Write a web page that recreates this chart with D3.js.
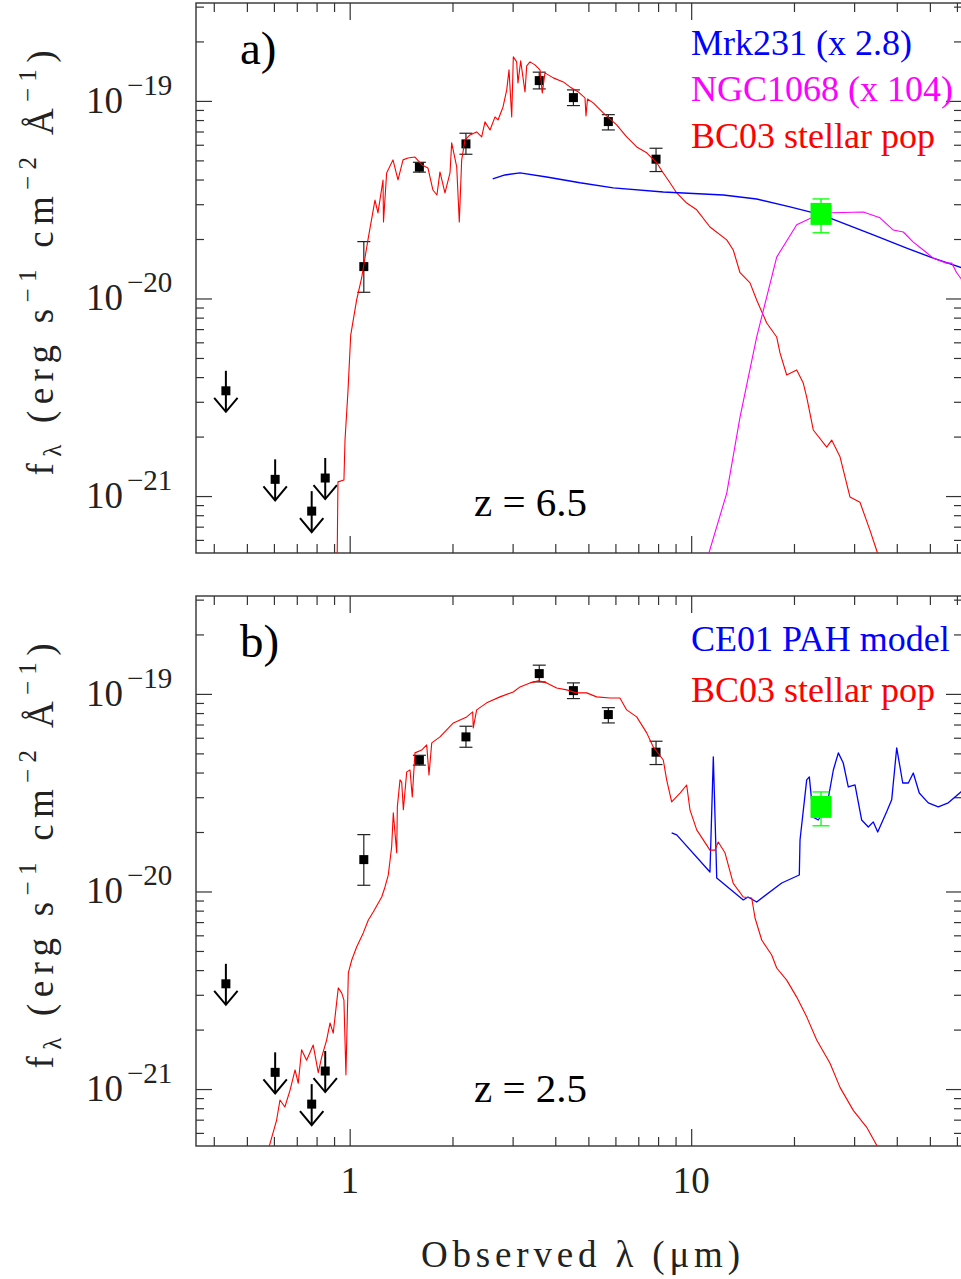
<!DOCTYPE html>
<meta charset="utf-8">
<script src="https://d3js.org/d3.v7.min.js"></script>
<style>
  body { margin: 0; background: #fff; overflow: hidden; }
  text { font-family: "Liberation Serif", "Times New Roman", serif; }
</style>
<div id="sed"></div>
<script>
// fluxes are in units of 1e-20 erg s^-1 cm^-2 A^-1, wavelengths in micron
const FLUX_UNIT = 1e-20;

// detections (ACS/NICMOS/K/IRAC)
const phot_lambda = [1.10, 1.60, 2.19, 3.59, 4.52, 5.72, 7.89];
const phot_flux   = [1.45, 4.62, 6.06, 12.67, 10.39, 7.86, 5.07];
const phot_hi     = [1.94, 4.89, 6.86, 13.98, 11.37, 8.52, 5.76];
const phot_lo     = [1.075, 4.36, 5.37, 11.50, 9.47, 7.13, 4.39];

// upper limits (B, V, i, z)
const ulim_lambda = [0.434, 0.605, 0.774, 0.848];
const ulim_flux   = [0.341, 0.1215, 0.0839, 0.1234];

// MIPS 24 micron
const mips_lambda = [24.0];
const mips_flux   = [2.68];
const mips_hi     = [3.19];
const mips_lo     = [2.15];

// panel a) models, z = 6.5
const bc03_z65 = [[0.918,0.04],[0.924,0.118],[0.962,0.1205],[0.969,0.192],[0.989,0.344],[1.007,0.653],[1.048,0.983],[1.084,1.27],[1.131,1.98],[1.186,3.15],[1.210,2.71],[1.252,3.98],[1.256,2.44],[1.283,4.32],[1.339,5.03],[1.385,3.98],[1.433,5.03],[1.481,5.14],[1.553,5.20],[1.628,4.74],[1.695,4.58],[1.753,3.54],[1.801,3.34],[1.838,4.37],[1.901,3.42],[1.967,4.32],[1.989,6.13],[2.058,4.63],[2.094,2.44],[2.128,5.03],[2.176,6.35],[2.250,6.73],[2.354,6.97],[2.435,6.57],[2.490,7.83],[2.576,7.13],[2.664,8.30],[2.719,8.01],[2.812,9.32],[2.883,11.37],[2.928,14.35],[2.982,8.30],[3.014,16.70],[3.083,15.76],[3.110,12.33],[3.168,15.94],[3.261,11.10],[3.299,15.04],[3.373,15.76],[3.488,15.22],[3.608,14.35],[3.664,10.98],[3.731,13.86],[3.946,13.08],[4.222,12.48],[4.417,11.77],[4.671,11.10],[4.887,10.36],[4.920,8.40],[4.970,10.23],[5.168,9.77],[5.528,8.69],[6.050,7.56],[6.473,6.57],[6.925,5.85],[7.409,5.46],[7.925,4.86],[8.285,4.32],[8.667,3.85],[9.069,3.42],[9.700,3.04],[10.38,2.81],[11.35,2.30],[12.71,1.98],[13.28,1.76],[13.90,1.35],[14.87,1.20],[15.55,0.983],[16.64,0.751],[17.80,0.638],[18.20,0.530],[19.04,0.410],[20.37,0.435],[21.29,0.373],[21.79,0.317],[22.78,0.216],[24.94,0.177],[25.79,0.192],[27.28,0.158],[29.17,0.099],[31.21,0.093],[33.39,0.067],[34.93,0.053],[35.72,0.047]];
const mrk231 = [[2.623,4.03],[2.849,4.22],[3.153,4.32],[3.775,4.12],[4.725,3.85],[5.913,3.63],[8.285,3.46],[12.42,3.34],[15.55,3.19],[19.47,2.91],[24.11,2.65],[34.14,2.10],[42.76,1.80],[51.16,1.60],[62.1,1.43]];
const ngc1068 = [[11.05,0.0448],[11.22,0.0502],[12.71,0.1035],[13.90,0.251],[15.55,0.638],[17.80,1.62],[20.37,2.36],[24.11,2.71],[31.92,2.74],[35.72,2.56],[39.07,2.22],[41.80,2.17],[44.71,1.93],[47.83,1.76],[51.16,1.60],[56.01,1.51],[57.93,1.51],[59.92,1.35],[62.1,1.24]];

// panel b) models, z = 2.5
const bc03_z25 = [[0.577,0.049],[0.611,0.0697],[0.625,0.088],[0.646,0.0811],[0.669,0.0988],[0.692,0.125],[0.707,0.107],[0.723,0.158],[0.748,0.140],[0.782,0.167],[0.809,0.121],[0.828,0.145],[0.856,0.177],[0.876,0.216],[0.895,0.192],[0.926,0.325],[0.948,0.306],[0.962,0.282],[0.975,0.118],[0.991,0.387],[1.014,0.45],[1.048,0.524],[1.096,0.617],[1.134,0.717],[1.172,0.787],[1.241,0.938],[1.269,1.054],[1.297,1.21],[1.327,1.68],[1.342,2.50],[1.373,1.57],[1.379,2.68],[1.404,3.67],[1.420,3.58],[1.436,2.59],[1.469,4.03],[1.502,4.12],[1.525,3.01],[1.553,5.03],[1.625,5.20],[1.681,5.52],[1.707,3.89],[1.739,5.65],[1.838,6.06],[2.012,7.13],[2.201,7.65],[2.292,8.11],[2.301,6.73],[2.354,8.30],[2.519,9.01],[2.755,9.66],[3.014,10.23],[3.153,10.85],[3.373,11.37],[3.568,11.64],[3.775,11.37],[4.038,10.72],[4.319,10.48],[4.620,10.12],[4.943,10.12],[5.287,9.66],[5.783,9.54],[6.186,9.54],[6.473,8.30],[6.925,7.65],[7.409,6.35],[7.745,5.39],[8.285,4.63],[8.476,3.67],[8.767,2.84],[9.276,3.15],[9.700,3.46],[9.92,2.59],[10.38,2.05],[11.35,1.62],[11.74,1.62],[12.00,1.78],[12.56,1.57],[13.28,1.10],[14.21,0.938],[15.04,0.927],[15.38,0.734],[16.09,0.568],[17.21,0.477],[17.80,0.410],[19.04,0.356],[20.37,0.292],[21.79,0.232],[23.31,0.177],[25.50,0.135],[27.28,0.102],[29.83,0.078],[32.66,0.064],[34.93,0.052],[35.72,0.048]];
const ce01 = [[8.767,1.978],[9.069,1.933],[11.35,1.255],[11.61,4.80],[11.88,1.17],[14.21,0.906],[14.67,0.938],[15.55,0.885],[18.41,1.104],[20.73,1.212],[20.83,1.822],[21.79,3.67],[22.18,3.80],[22.78,2.38],[23.56,2.30],[24.94,2.68],[26.08,4.12],[26.97,5.03],[27.88,4.47],[28.84,3.38],[30.18,3.46],[31.57,2.30],[33.01,2.12],[34.14,2.25],[35.17,2.00],[37.36,2.53],[38.65,2.91],[39.98,5.33],[41.64,3.54],[43.24,3.54],[44.71,3.98],[46.55,3.15],[49.46,2.81],[52.91,2.68],[56.61,2.81],[62.1,3.23]];

// axis ticks
const x_major = [1, 10];
const x_minor = [0.4,0.5,0.6,0.7,0.8,0.9,2,3,4,5,6,7,8,9,20,30,40,50,60];
const y_major = [1e-21, 1e-20, 1e-19];
const y_exp   = ["\u221221", "\u221220", "\u221219"];
const y_minor = [6e-22,7e-22,8e-22,9e-22,2e-21,3e-21,4e-21,5e-21,6e-21,7e-21,8e-21,9e-21,2e-20,3e-20,4e-20,5e-20,6e-20,7e-20,8e-20,9e-20,2e-19,3e-19];

const width = 961, height = 1279;
const left = 196, right = 962;

const svg = d3.select("#sed").append("svg")
    .attr("width", width)
    .attr("height", height);

const x = d3.scaleLog().domain([0.3548, 62.09]).range([left, right]);

const panels = [
  { id: "a", top: 3, bottom: 553, label: "a)", labelY: 64, z: "z = 6.5", zY: 516,
    models: [ {data: bc03_z65, color: "#ff0000", w: 1.1},
              {data: mrk231, color: "#0000ff", w: 1.4},
              {data: ngc1068, color: "#ff00ff", w: 1.1} ],
    legend: [ {text: "Mrk231 (x 2.8)", color: "#0000ff", y: 55},
              {text: "NGC1068 (x 104)", color: "#ff00ff", y: 101},
              {text: "BC03 stellar pop", color: "#ff0000", y: 148} ] },
  { id: "b", top: 596, bottom: 1146, label: "b)", labelY: 657, z: "z = 2.5", zY: 1102,
    models: [ {data: ce01, color: "#0000ff", w: 1.3},
              {data: bc03_z25, color: "#ff0000", w: 1.1} ],
    legend: [ {text: "CE01 PAH model", color: "#0000ff", y: 651},
              {text: "BC03 stellar pop", color: "#ff0000", y: 702} ] }
];

const tickColor = "#333";

panels.forEach(function(p, pi) {
  const y = d3.scaleLog().domain([5.15e-22, 3.13e-19]).range([p.bottom, p.top]);
  const g = svg.append("g");

  g.append("clipPath").attr("id", "clip" + p.id)
    .append("rect")
      .attr("x", left).attr("y", p.top)
      .attr("width", right - left).attr("height", p.bottom - p.top);

  // ticks on all four sides, pointing inward
  function styleAxis(sel) {
    sel.select(".domain").remove();
    sel.selectAll(".tick line").attr("stroke", tickColor).attr("stroke-width", 1.2);
    sel.selectAll(".tick text").remove();
  }
  const axes = [
    [d3.axisBottom(x), "translate(0," + p.bottom + ")", x_major, x_minor, 17, 9],
    [d3.axisTop(x), "translate(0," + p.top + ")", x_major, x_minor, 17, 9],
    [d3.axisLeft(y), "translate(" + left + ",0)", y_major, y_minor, 16, 8],
    [d3.axisRight(y), "translate(" + right + ",0)", y_major, y_minor, 16, 8]
  ];
  axes.forEach(function(a) {
    g.append("g").attr("transform", a[1])
      .call(a[0].tickValues(a[2]).tickSize(-a[4]).tickSizeOuter(0))
      .call(styleAxis);
    g.append("g").attr("transform", a[1])
      .call(a[0].tickValues(a[3]).tickSize(-a[5]).tickSizeOuter(0))
      .call(styleAxis);
  });

  g.append("rect")
    .attr("x", left).attr("y", p.top)
    .attr("width", right - left).attr("height", p.bottom - p.top)
    .attr("fill", "none").attr("stroke", tickColor).attr("stroke-width", 1.4);

  // y tick labels 10^n
  y_major.forEach(function(v, i) {
    g.append("text").attr("x", 86).attr("y", y(v) + 12)
      .attr("font-size", 37).attr("fill", "#222").text("10");
    g.append("text").attr("x", 127).attr("y", y(v) - 6)
      .attr("font-size", 29).attr("fill", "#222")
      .text(y_exp[i]);
  });

  // y axis title
  const yt = g.append("text")
    .attr("transform", "translate(53," + ((p.top + p.bottom) / 2 - 15) + ") rotate(-90)")
    .attr("text-anchor", "middle")
    .attr("font-size", 37).attr("fill", "#222")
    .attr("textLength", 425).attr("lengthAdjust", "spacing");
  yt.append("tspan").text("f");
  yt.append("tspan").attr("font-size", 25).attr("dy", 8).text("\u03bb");
  yt.append("tspan").attr("dy", -8).text(" (erg s");
  yt.append("tspan").attr("font-size", 25).attr("dy", -17).text("\u22121");
  yt.append("tspan").attr("dy", 17).text(" cm");
  yt.append("tspan").attr("font-size", 25).attr("dy", -17).text("\u22122");
  yt.append("tspan").attr("dy", 17).text(" \u00c5");
  yt.append("tspan").attr("font-size", 25).attr("dy", -17).text("\u22121");
  yt.append("tspan").attr("dy", 17).text(")");

  const plot = g.append("g").attr("clip-path", "url(#clip" + p.id + ")");

  // detections with error bars
  phot_lambda.forEach(function(l, i) {
    const cx = x(l);
    plot.append("line")
      .attr("x1", cx).attr("x2", cx)
      .attr("y1", y(phot_hi[i] * FLUX_UNIT)).attr("y2", y(phot_lo[i] * FLUX_UNIT))
      .attr("stroke", "#222").attr("stroke-width", 1.2);
    [phot_hi[i], phot_lo[i]].forEach(function(e) {
      plot.append("line")
        .attr("x1", cx - 6.5).attr("x2", cx + 6.5)
        .attr("y1", y(e * FLUX_UNIT)).attr("y2", y(e * FLUX_UNIT))
        .attr("stroke", "#222").attr("stroke-width", 1.2);
    });
    plot.append("rect")
      .attr("x", cx - 4.5).attr("y", y(phot_flux[i] * FLUX_UNIT) - 4.5)
      .attr("width", 9).attr("height", 9).attr("fill", "#000");
  });

  // upper limits
  ulim_lambda.forEach(function(l, i) {
    const cx = x(l), cy = y(ulim_flux[i] * FLUX_UNIT);
    plot.append("line")
      .attr("x1", cx).attr("x2", cx).attr("y1", cy - 20).attr("y2", cy + 21)
      .attr("stroke", "#000").attr("stroke-width", 2);
    plot.append("polyline")
      .attr("points", [[cx - 11.7, cy + 7], [cx, cy + 21], [cx + 11.7, cy + 7]].join(" "))
      .attr("fill", "none").attr("stroke", "#000").attr("stroke-width", 2);
    plot.append("rect")
      .attr("x", cx - 4.5).attr("y", cy - 4.5)
      .attr("width", 9).attr("height", 9).attr("fill", "#000");
  });

  // model curves
  const line = d3.line()
    .x(function(d) { return x(d[0]); })
    .y(function(d) { return y(d[1] * FLUX_UNIT); });
  p.models.forEach(function(m) {
    plot.append("path")
      .attr("d", line(m.data))
      .attr("fill", "none")
      .attr("stroke", m.color)
      .attr("stroke-width", m.w)
      .attr("stroke-linejoin", "round");
  });

  // 24 micron point
  mips_lambda.forEach(function(l, i) {
    const cx = x(l);
    plot.append("line")
      .attr("x1", cx).attr("x2", cx)
      .attr("y1", y(mips_hi[i] * FLUX_UNIT)).attr("y2", y(mips_lo[i] * FLUX_UNIT))
      .attr("stroke", "#00ff00").attr("stroke-width", 1.3);
    [mips_hi[i], mips_lo[i]].forEach(function(e) {
      plot.append("line")
        .attr("x1", cx - 8.5).attr("x2", cx + 8.5)
        .attr("y1", y(e * FLUX_UNIT)).attr("y2", y(e * FLUX_UNIT))
        .attr("stroke", "#00ff00").attr("stroke-width", 1.3);
    });
    plot.append("rect")
      .attr("x", cx - 10.5).attr("y", y(mips_flux[i] * FLUX_UNIT) - 11)
      .attr("width", 21).attr("height", 22).attr("fill", "#00ff00");
  });

  // labels
  g.append("text").attr("x", 240).attr("y", p.labelY)
    .attr("font-size", 47).attr("fill", "#000").text(p.label);
  g.append("text").attr("x", 474).attr("y", p.zY)
    .attr("font-size", 41).attr("fill", "#000").text(p.z);
  p.legend.forEach(function(l) {
    g.append("text").attr("x", 691).attr("y", l.y)
      .attr("font-size", 36).attr("fill", l.color).text(l.text);
  });

  // x tick labels only on the lower panel
  if (pi === 1) {
    x_major.forEach(function(v) {
      g.append("text").attr("x", x(v)).attr("y", 1193)
        .attr("text-anchor", "middle")
        .attr("font-size", 37).attr("fill", "#222").text(v);
    });
  }
});

// x axis title
svg.append("text")
  .attr("x", 421).attr("y", 1267)
  .attr("font-size", 37).attr("fill", "#222")
  .attr("textLength", 319).attr("lengthAdjust", "spacing")
  .text("Observed \u03bb (\u03bcm)");
</script>
